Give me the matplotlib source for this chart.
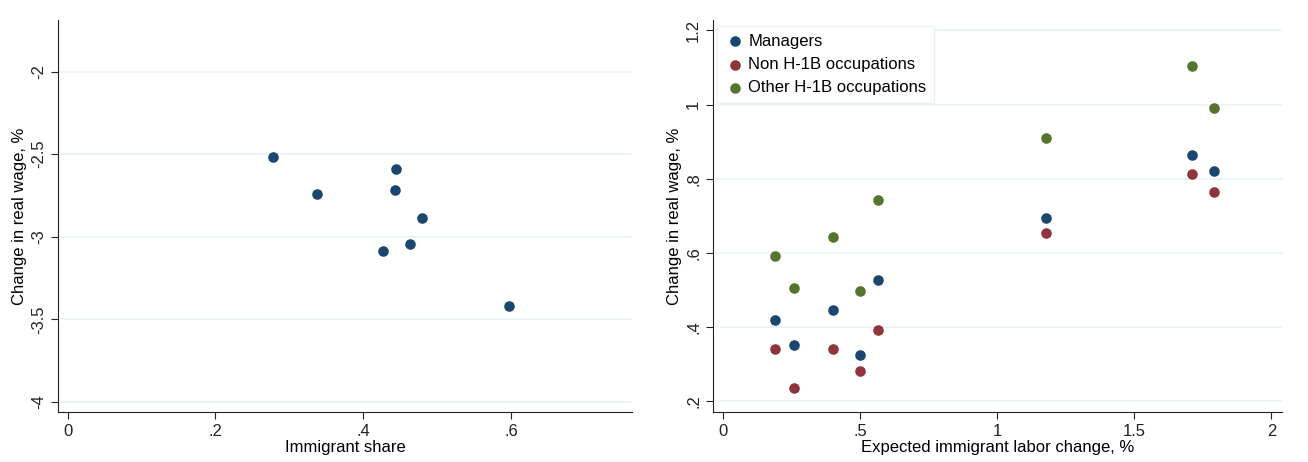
import numpy as np
import matplotlib.pyplot as plt
from matplotlib.ticker import FuncFormatter

plt.rcParams['font.family'] = ['Liberation Sans', 'DejaVu Sans']

# left panel: immigrant share vs change in real wage
share = [0.278, 0.338, 0.444, 0.443, 0.480, 0.463, 0.427, 0.598]
wage_left = [-2.520, -2.744, -2.591, -2.716, -2.887, -3.044, -3.085, -3.419]

# right panel: expected immigrant labor change
labor_chg = [0.188, 0.259, 0.401, 0.499, 0.564, 1.179, 1.711, 1.792]
managers = [0.420, 0.352, 0.445, 0.326, 0.526, 0.693, 0.865, 0.821]
non_h1b = [0.340, 0.236, 0.341, 0.283, 0.393, 0.653, 0.813, 0.765]
other_h1b = [0.592, 0.506, 0.644, 0.497, 0.743, 0.911, 1.103, 0.990]

series_names = ['Managers', 'Non H-1B occupations', 'Other H-1B occupations']
colors = ['#1a476f', '#90353b', '#55752f']
grid_col = '#eaf2f3'


def stata_fmt(v, pos):
    s = '%g' % round(v, 6)
    if s.startswith('0.'):
        s = s[1:]
    elif s.startswith('-0.'):
        s = '-' + s[2:]
    return s


def style(ax):
    for sp in ['top', 'right']:
        ax.spines[sp].set_visible(False)
    ax.spines['left'].set_color('#222222')
    ax.spines['bottom'].set_color('#222222')
    ax.tick_params(direction='out', length=5, labelsize=12, colors='#222222')
    ax.yaxis.grid(True, color=grid_col, linewidth=1.2)
    ax.set_axisbelow(True)
    ax.xaxis.set_major_formatter(FuncFormatter(stata_fmt))
    ax.yaxis.set_major_formatter(FuncFormatter(stata_fmt))
    for lab in ax.get_yticklabels():
        lab.set_rotation(90)
        lab.set_va('center')


fig = plt.figure(figsize=(13.08, 4.62), dpi=100)
ax1 = fig.add_axes([0.0443, 0.108, 0.439, 0.848])
ax2 = fig.add_axes([0.545, 0.108, 0.435, 0.848])

ax1.scatter(share, wage_left, s=58, color=colors[0], zorder=3, linewidths=0)
ax1.set_xlim(-0.013, 0.764)
ax1.set_ylim(-4.062, -1.69)
ax1.set_xticks([0, 0.2, 0.4, 0.6])
ax1.set_yticks([-4, -3.5, -3, -2.5, -2])
ax1.set_xlabel('Immigrant share', fontsize=12, labelpad=1)
ax1.set_ylabel('Change in real wage, %', fontsize=12, labelpad=3)
style(ax1)

for vals, name, c in zip([managers, non_h1b, other_h1b], series_names, colors):
    ax2.scatter(labor_chg, vals, s=58, color=c, zorder=3, linewidths=0, label=name)
ax2.set_xlim(-0.037, 2.038)
ax2.set_ylim(0.171, 1.227)
ax2.set_xticks([0, 0.5, 1, 1.5, 2])
ax2.set_yticks([0.2, 0.4, 0.6, 0.8, 1.0, 1.2])
ax2.set_xlabel('Expected immigrant labor change, %', fontsize=12, labelpad=1)
ax2.set_ylabel('Change in real wage, %', fontsize=12, labelpad=3)
style(ax2)
leg = ax2.legend(loc='upper left', bbox_to_anchor=(0.008, 0.985), fontsize=12,
                 frameon=True, fancybox=False, handletextpad=0.2,
                 borderpad=0.45, labelspacing=0.5, handlelength=1.2, borderaxespad=0)
leg.get_frame().set_edgecolor('#e6eef0')
leg.get_frame().set_linewidth(1.0)

fig.savefig('out.png', dpi=100)
